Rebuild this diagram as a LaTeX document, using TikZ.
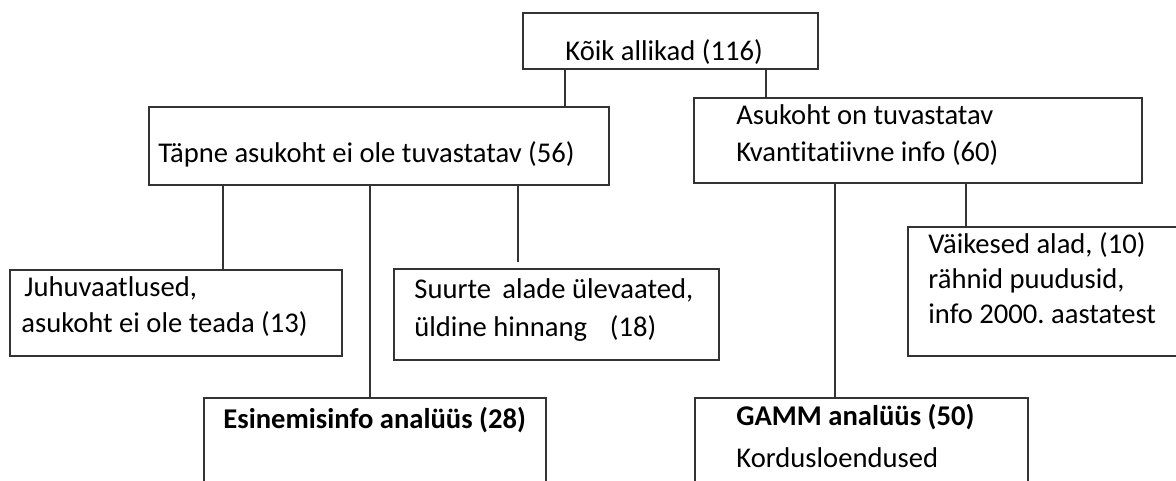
\documentclass[tikz,border=0pt]{standalone}
\usepackage{fontspec}
\setmainfont{Carlito}[Ligatures=NoCommon]
\usepackage{tikz}
\frenchspacing

\begin{document}
\begin{tikzpicture} [x=0.5pt, y=-0.5pt,
	box/.style={draw=black!80, line width=0.9pt, rectangle, inner sep=0pt, anchor=north west},
	lbl/.style={anchor=base west, inner sep=0pt, align=left, font=\fontsize{14.3}{18}\selectfont},
	link/.style={draw=black!80, line width=0.9pt}]
	\useasboundingbox (0, 0) rectangle (1176, 481);
		\node[box, minimum width=147.5pt, minimum height=28pt] (root) at (522, 12) {};
		\node[box, minimum width=230pt, minimum height=39pt] (tapne) at (148, 106) {};
		\node[box, minimum width=224pt, minimum height=42.5pt] (asukoht) at (693, 97) {};
			\node[box, minimum width=166pt, minimum height=43pt] (juhu) at (9, 269) {};
			\node[box, minimum width=162.5pt, minimum height=45.5pt] (suurte) at (393, 268) {};
			\node[box, minimum width=145pt, minimum height=64.5pt] (vaikesed) at (907, 226) {};
				\node[box, minimum width=171pt, minimum height=60pt] (esinemis) at (203, 397) {};
				\node[box, minimum width=166.5pt, minimum height=60pt] (gamm) at (694, 397) {};
	% tekstid (mitmerealisel sõlmel on base viimase rea joonel)
		\node[lbl] (rootlbl) at (565, 61) {Kõik allikad (116)};
		\node[lbl] (tapnelbl) at (158, 162) {Täpne asukoht ei ole tuvastatav (56)};
		\node[lbl] (asukohtlbl) at (736, 161) {Asukoht on tuvastatav\\Kvantitatiivne info (60)};
			\node[lbl] (juhulbl) at (21, 332) {\kern1.5pt Juhuvaatlused,\\asukoht ei ole teada (13)};
			\node[lbl, font=\fontsize{14.3}{19}\selectfont] (suurtelbl) at (414, 336) {Suurte\hspace{0.4em}alade ülevaated,\\üldine hinnang\hspace{0.8em}(18)};
			\node[lbl, font=\fontsize{14.3}{17.5}\selectfont] (vaikesedlbl) at (928, 323) {Väikesed alad, (10)\\rähnid puudusid,\\info 2000. aastatest};
				\node[lbl, font=\fontsize{14.3}{18}\bfseries] (esinemislbl) at (223, 428) {Esinemisinfo analüüs (28)};
				\node[lbl, font=\fontsize{14.3}{21}\selectfont] (gammlbl) at (736, 467) {\textbf{GAMM analüüs (50)}\\Kordusloendused};
	% jooned
		\draw[link] (root.south -| 565,0) -- (tapne.north -| 565,0);
		\draw[link] (root.south -| 766,0) -- (asukoht.north -| 766,0);
			\draw[link] (tapne.south -| 223,0) -- (juhu.north -| 223,0);
			\draw[link] (tapne.south -| 370,0) -- (esinemis.north -| 370,0);
			\draw[link, shorten >=3pt] (tapne.south -| 518,0) -- (suurte.north -| 518,0);
			\draw[link] (asukoht.south -| 835,0) -- (gamm.north -| 835,0);
			\draw[link] (asukoht.south -| 966,0) -- (vaikesed.north -| 966,0);
%	\draw[help lines, step=50] (0, 0) grid (1176, 481);
\end{tikzpicture}
\end{document}
